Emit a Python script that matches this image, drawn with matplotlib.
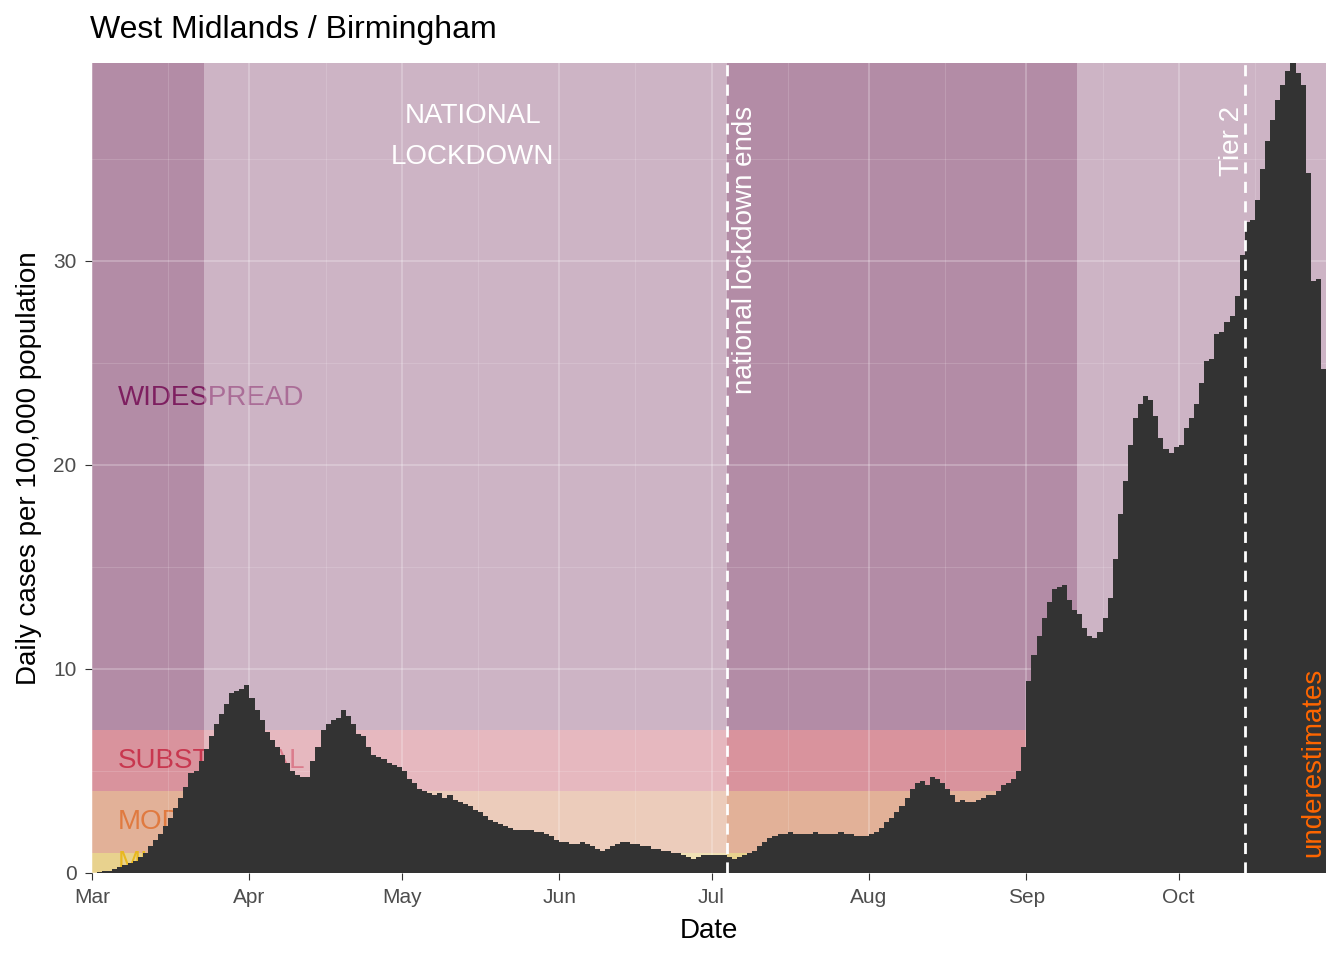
import matplotlib
matplotlib.use("Agg")
import matplotlib.pyplot as plt
import matplotlib.dates as mdates
import numpy as np
import datetime as dt
plt.rcParams['font.family'] = ['Liberation Sans', 'DejaVu Sans']

mar = [0,0.05,0.1,0.1,0.2,0.3,0.4,0.5,0.6,0.8,1.0,1.3,1.6,1.9,2.3,2.7,3.2,3.7,4.2,4.9,5.0,5.5,6.1,6.7,7.3,7.8,8.3,8.8,8.9,9.0,9.2]
apr = [8.6,8.0,7.5,6.9,6.5,6.2,5.8,5.4,5.0,4.8,4.7,4.7,5.5,6.2,7.0,7.3,7.5,7.6,8.0,7.7,7.3,6.8,6.7,6.2,5.8,5.7,5.6,5.4,5.3,5.2]
may = [5.0,4.6,4.4,4.1,4.0,3.9,3.8,3.9,3.7,3.8,3.6,3.5,3.4,3.3,3.1,3.0,2.8,2.6,2.5,2.4,2.3,2.2,2.1,2.1,2.1,2.1,2.0,2.0,1.9,1.8,1.6]
jun = [1.5,1.5,1.4,1.4,1.5,1.4,1.3,1.2,1.1,1.2,1.3,1.4,1.5,1.5,1.4,1.4,1.3,1.3,1.2,1.2,1.1,1.1,1.0,1.0,0.9,0.8,0.7,0.8,0.9,0.9]
jul = [0.9,0.9,0.9,0.8,0.7,0.8,0.9,1.0,1.1,1.3,1.5,1.7,1.8,1.9,1.9,2.0,1.9,1.9,1.9,1.9,2.0,1.9,1.9,1.9,1.9,2.0,1.9,1.9,1.8,1.8,1.8]
aug = [1.9,2.0,2.2,2.5,2.7,3.0,3.3,3.7,4.1,4.4,4.5,4.3,4.7,4.6,4.4,4.1,3.8,3.5,3.6,3.5,3.5,3.6,3.7,3.8,3.8,4.0,4.3,4.4,4.6,5.0,6.2]
sep = [9.4,10.7,11.6,12.5,13.3,13.9,14.0,14.1,13.4,12.9,12.7,12.0,11.6,11.5,11.8,12.5,13.5,15.4,17.6,19.2,21.0,22.3,23.0,23.4,23.2,22.4,21.3,20.8,20.6,20.9]
oct_ = [21.0,21.8,22.3,23.0,24.0,25.1,25.2,26.4,26.5,27.0,27.3,28.3,30.3,31.9,32.0,33.0,34.5,35.9,36.9,37.9,38.6,39.3,39.7,39.2,38.6,34.3,29.0,29.1,24.7]
values = mar+apr+may+jun+jul+aug+sep+oct_
start = dt.date(2020,3,1)
dates = [start+dt.timedelta(days=i) for i in range(len(values))]

band_edges = [0,1,4,7,39.7]
band_colors = ['#e8d28e','#e2b198','#d9939d','#b38ca6']
band_names = ['MILD','MODERATE','SUBSTANTIAL','WIDESPREAD']
band_text_y = [0.5,2.5,5.5,23.3]
band_text_col = ['#e8b820','#e07a40','#c8374f','#7e1f60']
light_periods = [(dt.date(2020,3,23),dt.date(2020,7,4)),(dt.date(2020,9,11),dt.date(2020,10,31))]
events = [(dt.date(2020,7,4),'national lockdown ends'),(dt.date(2020,10,14),'Tier 2')]

fig = plt.figure(figsize=(13.44,9.6),dpi=100)
ax = fig.add_axes([92/1344,(960-873)/960,(1326-92)/1344,(873-63)/960])
ax.set_facecolor('#ebebeb')
x0 = mdates.date2num(start); x1 = x0+243
ax.set_xlim(x0,x1); ax.set_ylim(0,39.7)
for i in range(4):
    ax.axhspan(band_edges[i],band_edges[i+1],color=band_colors[i],zorder=1,lw=0)
    ax.text(mdates.date2num(dt.date(2020,3,6)),band_text_y[i],band_names[i],color=band_text_col[i],
            fontsize=20,va='center',ha='left',zorder=2)
for a,b in light_periods:
    ax.axvspan(mdates.date2num(a),mdates.date2num(b),color='white',alpha=0.35,lw=0,zorder=3)
for y in [0,10,20,30]:
    ax.axhline(y,color='white',alpha=0.25,lw=1.3,zorder=3.5)
for y in [5,15,25,35]:
    ax.axhline(y,color='white',alpha=0.15,lw=0.7,zorder=3.5)
months = [dt.date(2020,m,1) for m in range(3,11)]
for m in months:
    ax.axvline(mdates.date2num(m),color='white',alpha=0.25,lw=1.3,zorder=3.5)
    ax.axvline(mdates.date2num(m)+15,color='white',alpha=0.15,lw=0.7,zorder=3.5)
ax.bar(mdates.date2num(dates),values,width=1.0,align='edge',color='#333333',lw=0,zorder=4)
for d,lab in events:
    ax.axvline(mdates.date2num(d),color='white',ls=(0,(4,3)),lw=2,zorder=5)
ax.text(mdates.date2num(dt.date(2020,7,4))+3.5,37.6,'national lockdown ends',rotation=90,color='white',
        fontsize=20,ha='center',va='top',zorder=6)
ax.text(mdates.date2num(dt.date(2020,10,14))-2.6,37.6,'Tier 2',rotation=90,color='white',
        fontsize=20,ha='center',va='top',zorder=6)
ax.text(mdates.date2num(dt.date(2020,5,15)),36.1,'NATIONAL\nLOCKDOWN',color='white',fontsize=20,
        ha='center',va='center',linespacing=1.75,zorder=6)
ax.text(x1-2.6,0.8,'underestimates',rotation=90,color='#ff6600',fontsize=20,ha='center',va='bottom',zorder=6)
for s in ax.spines.values(): s.set_visible(False)
ax.set_yticks([0,10,20,30])
ax.set_xticks([mdates.date2num(m) for m in months])
ax.set_xticklabels([m.strftime('%b') for m in months])
ax.tick_params(labelsize=15,colors='#4d4d4d',length=5,pad=6,color='#333333')
ax.set_xlabel('Date',fontsize=20,labelpad=8)
ax.set_ylabel('Daily cases per 100,000 population',fontsize=20,labelpad=8)
fig.text(90/1344,1-30/960,'West Midlands / Birmingham',fontsize=23,va='center',ha='left')
fig.savefig('out.png',dpi=100)
